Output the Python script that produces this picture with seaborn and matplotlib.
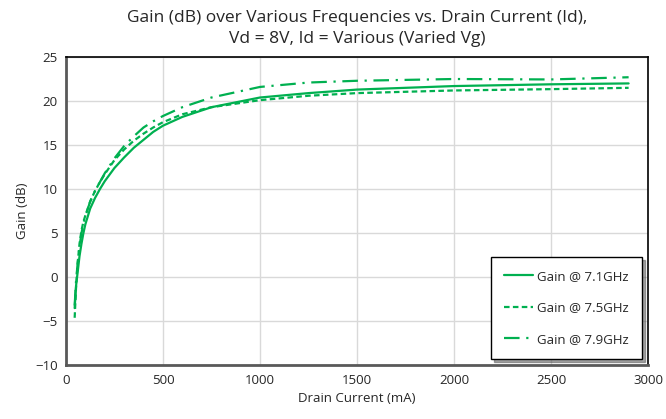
import pandas as pd
import matplotlib.pyplot as plt
import seaborn as sns

# Drain current (mA) and gain (dB) per frequency
current = [45, 52, 60, 70, 80, 90, 100, 125, 150, 175, 200, 250, 300, 350, 400, 450, 500,
           600, 750, 1000, 1250, 1500, 2000, 2500, 2900]
gain_71 = [-3.5, -1.0, 0.5, 2.4, 3.8, 5.0, 6.0, 7.8, 9.0, 10.0, 10.9, 12.4, 13.6, 14.7, 15.6, 16.5, 17.2,
           18.2, 19.3, 20.4, 20.9, 21.3, 21.7, 21.9, 22.0]
gain_75 = [-4.6, -1.2, 1.5, 3.8, 5.3, 6.3, 7.0, 8.6, 9.8, 10.8, 11.7, 13.3, 14.5, 15.5, 16.3, 17.0, 17.6,
           18.5, 19.3, 20.1, 20.6, 20.9, 21.2, 21.35, 21.5]
gain_79 = [-3.2, -0.5, 1.5, 3.5, 5.0, 6.1, 6.9, 8.6, 9.8, 10.8, 11.8, 13.5, 14.9, 16.0, 17.0, 17.7, 18.3,
           19.3, 20.4, 21.6, 22.1, 22.3, 22.5, 22.45, 22.7]
labels = ["Gain @ 7.1GHz", "Gain @ 7.5GHz", "Gain @ 7.9GHz"]

df = pd.concat([
    pd.DataFrame({"Drain Current (mA)": current, "Gain (dB)": g, "series": lab})
    for g, lab in zip([gain_71, gain_75, gain_79], labels)
])

sns.set_style("white")
plt.rcParams["font.family"] = ["Open Sans", "DejaVu Sans"]

green = "#00B050"
fig, ax = plt.subplots(figsize=(6.66, 4.19), dpi=100)
fig.subplots_adjust(left=0.099, right=0.973, top=0.864, bottom=0.128)

sns.lineplot(data=df, x="Drain Current (mA)", y="Gain (dB)", style="series",
             dashes={labels[0]: "", labels[1]: (2.5, 1.5), labels[2]: (7, 3, 1, 3)},
             color=green, linewidth=1.6, ax=ax, legend=False)

ax.set_xlim(0, 3000)
ax.set_ylim(-10, 25)
ax.set_xticks(range(0, 3001, 500))
ax.set_yticks(range(-10, 26, 5))
ax.grid(True, color="#d9d9d9", linewidth=1)
ax.tick_params(labelsize=9.5, length=0, pad=6)
ax.set_xlabel("Drain Current (mA)", fontsize=9.5)
ax.set_ylabel("Gain (dB)", fontsize=9.5)
ax.set_title("Gain (dB) over Various Frequencies vs. Drain Current (Id),\nVd = 8V, Id = Various (Varied Vg)",
             fontsize=12.5, pad=10, linespacing=1.4)

for side in ["left", "bottom"]:
    ax.spines[side].set_color("#595959")
    ax.spines[side].set_linewidth(2)
for side in ["top", "right"]:
    ax.spines[side].set_color("black")
    ax.spines[side].set_linewidth(1.2)

leg = ax.legend(ax.lines, labels, loc="lower right", bbox_to_anchor=(0.99, 0.02),
                fontsize=9.5, frameon=True, fancybox=False, shadow=True,
                handlelength=2.2, handletextpad=0.3, labelspacing=1.4,
                borderpad=1.0, borderaxespad=0)
leg.get_frame().set_edgecolor("black")
leg.get_frame().set_linewidth(1)

plt.savefig("out.png", dpi=100)
